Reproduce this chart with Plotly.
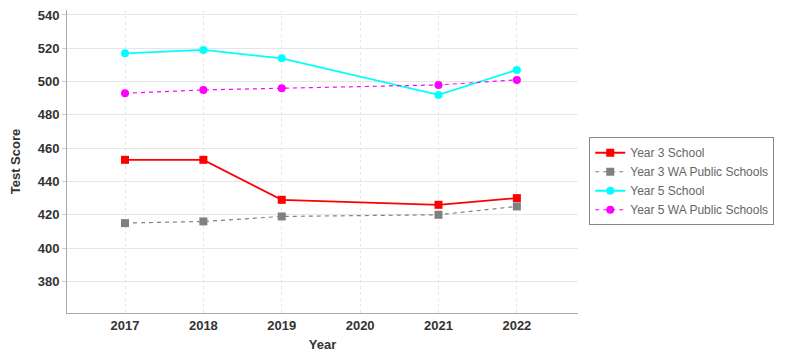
import plotly.graph_objects as go

years = [2017, 2018, 2019, 2021, 2022]
y3_school = [453, 453, 429, 426, 430]
y3_wa = [415, 416, 419, 420, 425]
y5_school = [517, 519, 514, 492, 507]
y5_wa = [493, 495, 496, 498, 501]
x_ticks = [2017, 2018, 2019, 2020, 2021, 2022]
y_ticks = [380, 400, 420, 440, 460, 480, 500, 520, 540]

series = [
    ("Year 3 School", y3_school, "#ff0000", "solid", 1.8, "square"),
    ("Year 3 WA Public Schools", y3_wa, "#808080", "4px,4px", 1.2, "square"),
    ("Year 5 School", y5_school, "#00ffff", "solid", 1.8, "circle"),
    ("Year 5 WA Public Schools", y5_wa, "#ff00ff", "4px,4px", 1.2, "circle"),
]

fig = go.Figure()
for name, vals, col, dash, w, sym in series:
    fig.add_trace(go.Scatter(
        x=years, y=vals, name=name, mode="lines+markers",
        line=dict(color=col, width=w, dash=dash),
        marker=dict(color=col, symbol=sym, size=8),
    ))

fig.update_layout(
    width=785, height=358,
    margin=dict(l=67, r=207, t=8, b=42),
    paper_bgcolor="white", plot_bgcolor="white",
    font=dict(family="Liberation Sans, Arial, sans-serif", color="#444"),
    legend=dict(
        x=1.022, y=0.58, xanchor="left", yanchor="top",
        bordercolor="#888", borderwidth=1,
        font=dict(size=12, color="#666"),
        tracegroupgap=0, itemwidth=30,
    ),
    xaxis=dict(
        range=[2016.26, 2022.78], tickvals=x_ticks,
        showgrid=True, gridcolor="#e6e6e6", griddash="dot",
        showline=True, linecolor="#aaa", ticks="",
        tickfont=dict(size=13, color="#333", weight="bold"),
        title=dict(text="Year", font=dict(size=13, color="#333", weight="bold"), standoff=8),
        zeroline=False,
    ),
    yaxis=dict(
        range=[361, 543], tickvals=y_ticks,
        showgrid=True, gridcolor="#e6e6e6",
        showline=True, linecolor="#aaa", ticks="outside", ticklen=4, tickcolor="#ccc",
        tickfont=dict(size=13, color="#333", weight="bold"),
        title=dict(text="Test Score", font=dict(size=13, color="#333", weight="bold"), standoff=14),
        zeroline=False,
    ),
)

fig.write_html("out.html")
